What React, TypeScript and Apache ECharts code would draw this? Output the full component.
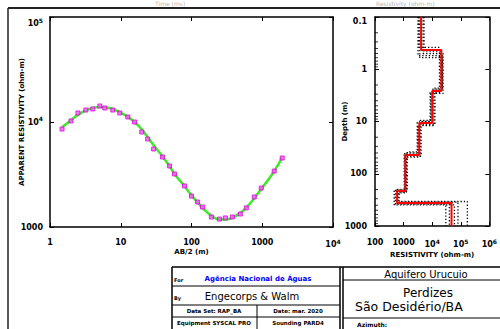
import React, { useEffect, useRef } from "react";
import * as echarts from "echarts";

// ---- Sounding curve (left panel) ----
const abHalf = [1.48, 1.98, 2.48, 3.21, 4.03, 5.06, 5.95, 7.72, 9.68, 12.6, 15.7, 19.8, 24, 29.2, 39, 49, 57.6, 79.7, 100, 122, 143, 191, 248, 301, 378, 490, 595, 771, 968, 1476, 1914];
const rhoApparent = [8570, 10230, 12190, 13000, 13300, 14200, 13600, 13000, 12190, 11160, 10000, 8030, 6890, 5530, 4640, 3810, 3200, 2460, 1970, 1730, 1550, 1245, 1190, 1220, 1245, 1330, 1520, 1930, 2350, 3410, 4540];
const rhoModelCurve = [8900, 10400, 11700, 12900, 13600, 13900, 13800, 13300, 12400, 11200, 10000, 8500, 7200, 6000, 4700, 3800, 3200, 2450, 2000, 1720, 1520, 1280, 1180, 1180, 1230, 1360, 1530, 1880, 2300, 3400, 4600];

// ---- Layered model (right panel) ----
const layerRes = [4100, 20900, 10000, 3530, 1160, 594, 47500];
const layerBottom = [0.43, 2.6, 10.7, 43.8, 214, 363];

// equivalent models (dotted)
const eq1Res = [3400, 18000, 11500, 3200, 1100, 520, 30000];
const eq1Bottom = [0.38, 2.3, 12, 40, 200, 380];
const eq2Res = [4800, 24000, 9000, 3800, 1250, 650, 80000];
const eq2Bottom = [0.5, 2.9, 9.5, 48, 225, 350];
const eq3Res = [3700, 22500, 12500, 3300, 1050, 470, 60000];
const eq3Bottom = [0.6, 2.5, 11.5, 42, 205, 395];
const eq4Res = [5200, 19500, 8500, 4100, 1220, 700, 170000];
const eq4Bottom = [0.45, 2.8, 10, 46, 232, 340];
const eq5Res = [3200, 23000, 10500, 3000, 1350, 560, 40000];
const eq5Bottom = [0.55, 2.4, 10.2, 38, 218, 370];

const depthMin = 0.1;
const depthMax = 1000;
const minorMult = [2, 3, 4, 5, 6, 7, 8, 9];
const depthDecades = [0.1, 1, 10, 100];

const FONT = "DejaVu Sans";

function steps(res: number[], bottoms: number[]): number[][] {
  const pts: number[][] = [];
  let top = depthMin;
  res.forEach((r, i) => {
    const b = i < bottoms.length ? bottoms[i] : depthMax;
    pts.push([r, top], [r, b]);
    top = b;
  });
  return pts;
}

function fmtVal(v: number): string {
  const e = Math.round(Math.log10(v));
  if (e >= 4) return `{b|10}{s|${e}}`;
  if (e < 0) return `{b|0.1}`;
  return `{b|${Math.pow(10, e)}}`;
}

const rich = {
  b: { fontSize: 8, fontWeight: "bold", fontFamily: FONT, color: "#000" },
  s: { fontSize: 6, fontWeight: "bold", fontFamily: FONT, color: "#000", padding: [0, 0, 7, 0] },
};

export default function App() {
  const ref = useRef<HTMLDivElement>(null);
  useEffect(() => {
    if (!ref.current) return;
    const chart = echarts.init(ref.current, undefined, { renderer: "svg" });
    const axisLine = { show: true, lineStyle: { color: "#000", width: 1.5 } };
    const tick = { show: true, inside: true, length: 4, lineStyle: { color: "#000", width: 1 } };
    const nameStyle = { fontFamily: FONT, fontWeight: "bold" as const, fontSize: 7, color: "#000" };

    const minorTicks: number[][] = [];
    depthDecades.forEach((d) => minorMult.forEach((m) => minorTicks.push([100, d * m])));

    const eqSets = [
      [eq1Res, eq1Bottom],
      [eq2Res, eq2Bottom],
      [eq3Res, eq3Bottom],
      [eq4Res, eq4Bottom],
      [eq5Res, eq5Bottom],
    ];

    const option: any = {
      animation: false,
      backgroundColor: "#fff",
      grid: [
        { left: 50, top: 17, width: 283, height: 210 },
        { left: 375, top: 17, width: 123, height: 209 },
      ],
      xAxis: [
        {
          gridIndex: 0, type: "log", logBase: 10, min: 1, max: 10000, position: "bottom",
          axisLine, axisTick: tick, splitLine: { show: false },
          axisLabel: { formatter: fmtVal, rich, margin: 11 },
          name: "AB/2 (m)", nameLocation: "middle", nameGap: 21, nameMoveOverlap: false, nameTextStyle: nameStyle,
        },
        {
          gridIndex: 0, type: "log", logBase: 10, min: 1, max: 10000, position: "top",
          axisLine, axisTick: tick, axisLabel: { show: false }, splitLine: { show: false },
        },
        {
          gridIndex: 1, type: "log", logBase: 10, min: 100, max: 1000000, position: "bottom",
          axisLine, axisTick: tick, splitLine: { show: false },
          axisLabel: { formatter: fmtVal, rich, margin: 12 },
          name: "RESISTIVITY (ohm-m)", nameLocation: "middle", nameGap: 25, nameMoveOverlap: false, nameTextStyle: nameStyle,
        },
        {
          gridIndex: 1, type: "log", logBase: 10, min: 100, max: 1000000, position: "top",
          axisLine, axisTick: tick, axisLabel: { show: false }, splitLine: { show: false },
        },
      ],
      yAxis: [
        {
          gridIndex: 0, type: "log", logBase: 10, min: 1000, max: 100000, position: "left",
          axisLine, axisTick: tick, splitLine: { show: false },
          axisLabel: { formatter: fmtVal, rich, margin: 7, verticalAlignMaxLabel: "top" },
          name: "APPARENT RESISTIVITY (ohm-m)", nameLocation: "middle", nameGap: 25, nameMoveOverlap: false, nameTextStyle: nameStyle,
        },
        {
          gridIndex: 0, type: "log", logBase: 10, min: 1000, max: 100000, position: "right",
          axisLine, axisTick: tick, axisLabel: { show: false }, splitLine: { show: false },
        },
        {
          gridIndex: 1, type: "log", logBase: 10, min: depthMin, max: depthMax, inverse: true, position: "left",
          axisLine, axisTick: tick, splitLine: { show: false },
          axisLabel: { formatter: fmtVal, rich, margin: 8, verticalAlignMinLabel: "top" },
          name: "Depth (m)", nameLocation: "middle", nameGap: 27, nameMoveOverlap: false, nameTextStyle: nameStyle,
        },
        {
          gridIndex: 1, type: "log", logBase: 10, min: depthMin, max: depthMax, inverse: true, position: "right",
          axisLine, axisTick: tick, axisLabel: { show: false }, splitLine: { show: false },
        },
      ],
      series: [
        {
          type: "line", xAxisIndex: 0, yAxisIndex: 0, smooth: 0.5, symbol: "none",
          data: abHalf.map((a, i) => [a, rhoModelCurve[i]]),
          lineStyle: { color: "#3ee82a", width: 2.5 }, z: 2,
        },
        {
          type: "scatter", xAxisIndex: 0, yAxisIndex: 0, symbol: "rect", symbolSize: 4,
          data: abHalf.map((a, i) => [a, rhoApparent[i]]),
          itemStyle: { color: "#f060f0", borderColor: "#e000e0", borderWidth: 1 }, z: 3,
        },
        ...eqSets.map(([r, b]) => ({
          type: "line", xAxisIndex: 2, yAxisIndex: 2, symbol: "none",
          data: steps(r, b),
          lineStyle: { color: "#000", width: 1.3, type: [1.3, 2] }, z: 2,
        })),
        {
          type: "line", xAxisIndex: 2, yAxisIndex: 2, symbol: "none",
          data: steps(layerRes, layerBottom),
          lineStyle: { color: "#ff0000", width: 2 }, z: 5,
        },
        {
          type: "scatter", xAxisIndex: 2, yAxisIndex: 2, symbol: "rect", symbolSize: [3, 1],
          symbolOffset: [1.5, 0], data: minorTicks, itemStyle: { color: "#000" }, z: 4,
        },
      ],
      graphic: [
        // faint header texts
        { type: "text", left: 155, top: 0, style: { text: "Time (ms)", fontSize: 6, fill: "#b8b8b8", fontFamily: FONT } },
        { type: "text", left: 376, top: 0, style: { text: "Resistivity (ohm-m)", fontSize: 6, fill: "#b8b8b8", fontFamily: FONT } },
        // frame
        { type: "line", shape: { x1: 8, y1: 8, x2: 500, y2: 8 }, style: { stroke: "#222", lineWidth: 2 } },
        { type: "line", shape: { x1: 8, y1: 8, x2: 8, y2: 329 }, style: { stroke: "#222", lineWidth: 1.5 } },
        // title block
        { type: "line", shape: { x1: 172, y1: 267, x2: 500, y2: 267 }, style: { stroke: "#000", lineWidth: 1.5 } },
        { type: "line", shape: { x1: 172, y1: 267, x2: 172, y2: 329 }, style: { stroke: "#000", lineWidth: 1.5 } },
        { type: "line", shape: { x1: 340, y1: 267, x2: 340, y2: 329 }, style: { stroke: "#000", lineWidth: 1.5 } },
        { type: "line", shape: { x1: 343, y1: 267, x2: 343, y2: 329 }, style: { stroke: "#000", lineWidth: 1.5 } },
        { type: "line", shape: { x1: 172, y1: 286, x2: 340, y2: 286 }, style: { stroke: "#000", lineWidth: 1 } },
        { type: "line", shape: { x1: 172, y1: 305, x2: 340, y2: 305 }, style: { stroke: "#000", lineWidth: 1 } },
        { type: "line", shape: { x1: 172, y1: 317, x2: 340, y2: 317 }, style: { stroke: "#000", lineWidth: 1 } },
        { type: "line", shape: { x1: 257, y1: 305, x2: 257, y2: 329 }, style: { stroke: "#000", lineWidth: 1 } },
        { type: "line", shape: { x1: 343, y1: 280, x2: 500, y2: 280 }, style: { stroke: "#000", lineWidth: 1 } },
        { type: "line", shape: { x1: 343, y1: 318, x2: 500, y2: 318 }, style: { stroke: "#000", lineWidth: 1 } },
        { type: "text", x: 174, y: 280, style: { text: "For", fontSize: 5, fontWeight: "bold", fill: "#000", fontFamily: FONT, verticalAlign: "middle" } },
        { type: "text", x: 258, y: 279, style: { text: "Agência Nacional de Águas", fontSize: 7, fontWeight: "bold", fill: "#0000ff", fontFamily: FONT, align: "center", verticalAlign: "middle" } },
        { type: "text", x: 174, y: 298, style: { text: "By", fontSize: 5, fontWeight: "bold", fill: "#000", fontFamily: FONT, verticalAlign: "middle" } },
        { type: "text", x: 252, y: 296, style: { text: "Engecorps & Walm", fontSize: 10, fill: "#000", fontFamily: FONT, align: "center", verticalAlign: "middle" } },
        { type: "text", x: 214, y: 311, style: { text: "Data Set: RAP_BA", fontSize: 5.5, fontWeight: "bold", fill: "#000", fontFamily: FONT, align: "center", verticalAlign: "middle" } },
        { type: "text", x: 298, y: 311, style: { text: "Date: mar. 2020", fontSize: 5.5, fontWeight: "bold", fill: "#000", fontFamily: FONT, align: "center", verticalAlign: "middle" } },
        { type: "text", x: 214, y: 323, style: { text: "Equipment SYSCAL PRO", fontSize: 5.5, fontWeight: "bold", fill: "#000", fontFamily: FONT, align: "center", verticalAlign: "middle" } },
        { type: "text", x: 298, y: 323, style: { text: "Sounding PARD4", fontSize: 5.5, fontWeight: "bold", fill: "#000", fontFamily: FONT, align: "center", verticalAlign: "middle" } },
        { type: "text", x: 426, y: 274, style: { text: "Aquifero Urucuio", fontSize: 10, fill: "#000", fontFamily: FONT, align: "center", verticalAlign: "middle" } },
        { type: "text", x: 428, y: 293, style: { text: "Perdizes", fontSize: 12, fill: "#000", fontFamily: FONT, align: "center", verticalAlign: "middle" } },
        { type: "text", x: 355, y: 306, style: { text: "São Desidério/BA", fontSize: 12.5, fill: "#000", fontFamily: FONT, verticalAlign: "middle" } },
        { type: "text", x: 357, y: 324, style: { text: "Azimuth:", fontSize: 6, fontWeight: "bold", fill: "#000", fontFamily: FONT, verticalAlign: "middle" } },
      ],
    };
    chart.setOption(option);
    return () => chart.dispose();
  }, []);
  return (
    <div
      ref={ref}
      style={{ position: "absolute", left: 0, top: 0, width: 500, height: 329, background: "#fff" }}
    />
  );
}
